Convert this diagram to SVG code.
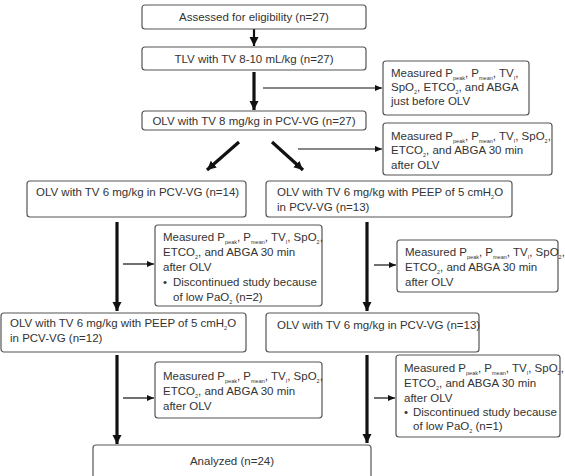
<svg xmlns="http://www.w3.org/2000/svg" width="565" height="476" viewBox="0 0 565 476">
<style>
.box{fill:#fff;stroke:#555;stroke-width:1.2}
text{font-family:"Liberation Sans",Arial,sans-serif;font-size:11.5px;fill:#333}
.s{font-size:5.5px}
.c{text-anchor:middle}
.thick{stroke:#111;stroke-width:3.2;fill:none}
.thin{stroke:#111;stroke-width:1.2;fill:none}
</style>
<defs>
<marker id="ah" markerUnits="userSpaceOnUse" markerWidth="10" markerHeight="10" refX="9" refY="5" orient="auto">
<path d="M0,0.5 L9,5 L0,9.5 Z" fill="#111"/>
</marker>
<marker id="as" markerUnits="userSpaceOnUse" markerWidth="8" markerHeight="8" refX="7" refY="4" orient="auto">
<path d="M0,1 L7,4 L0,7 Z" fill="#111"/>
</marker>
</defs>
<g id="connectors">
<line class="thin" x1="254" y1="29" x2="254" y2="46" style="stroke-width:2.2" marker-end="url(#ah)"/>
<line class="thick" x1="254" y1="72" x2="254" y2="110" marker-end="url(#ah)"/>
<line class="thin" x1="263" y1="88" x2="382" y2="88" marker-end="url(#as)"/>
<line class="thick" x1="239" y1="142" x2="207" y2="170" marker-end="url(#ah)"/>
<line class="thick" x1="272" y1="142" x2="303" y2="170" marker-end="url(#ah)"/>
<line class="thin" x1="298" y1="149" x2="382" y2="149" marker-end="url(#as)"/>
<line class="thick" x1="117" y1="222" x2="117" y2="311" marker-end="url(#ah)"/>
<line class="thin" x1="123" y1="264" x2="154" y2="264" marker-end="url(#as)"/>
<line class="thick" x1="367" y1="222" x2="367" y2="311" marker-end="url(#ah)"/>
<line class="thin" x1="374" y1="265" x2="396" y2="265" marker-end="url(#as)"/>
<line class="thick" x1="117" y1="355" x2="117" y2="444" marker-end="url(#ah)"/>
<line class="thin" x1="123" y1="398" x2="154" y2="398" marker-end="url(#as)"/>
<line class="thick" x1="367" y1="355" x2="367" y2="443" marker-end="url(#ah)"/>
<line class="thin" x1="374" y1="398" x2="395" y2="398" marker-end="url(#as)"/>
</g>
<g id="n1"><rect class="box" x="142" y="5" width="224" height="24" rx="3"/><text class="c" x="254" y="21">Assessed for eligibility (n=27)</text></g>
<g id="n2"><rect class="box" x="142" y="47" width="224" height="23" rx="3"/><text class="c" x="254" y="63">TLV with TV 8-10 mL/kg (n=27)</text></g>
<g id="m1"><rect class="box" x="383" y="61" width="146" height="54" rx="3"/>
<text x="391" y="77">Measured P<tspan class="s" dy="3">peak</tspan><tspan dy="-3">, P</tspan><tspan class="s" dy="3">mean</tspan><tspan dy="-3">, TV</tspan><tspan class="s" dy="3">I</tspan><tspan dy="-3">,</tspan></text>
<text x="391" y="91">SpO<tspan class="s" dy="3">2</tspan><tspan dy="-3">, ETCO</tspan><tspan class="s" dy="3">2</tspan><tspan dy="-3">, and ABGA</tspan></text>
<text x="391" y="105">just before OLV</text></g>
<g id="n3"><rect class="box" x="142" y="111" width="224" height="19" rx="3"/><text class="c" x="254" y="125">OLV with TV 8 mg/kg in PCV-VG (n=27)</text></g>
<g id="m2"><rect class="box" x="383" y="123" width="169" height="52" rx="3"/>
<text x="391" y="140">Measured P<tspan class="s" dy="3">peak</tspan><tspan dy="-3">, P</tspan><tspan class="s" dy="3">mean</tspan><tspan dy="-3">, TV</tspan><tspan class="s" dy="3">I</tspan><tspan dy="-3">, SpO</tspan><tspan class="s" dy="3">2</tspan><tspan dy="-3">,</tspan></text>
<text x="391" y="154">ETCO<tspan class="s" dy="3">2</tspan><tspan dy="-3">, and ABGA 30 min</tspan></text>
<text x="391" y="169">after OLV</text></g>
<g id="n4"><rect class="box" x="27" y="181" width="219" height="36" rx="3"/><text x="36" y="196">OLV with TV 6 mg/kg in PCV-VG (n=14)</text></g>
<g id="n5"><rect class="box" x="266" y="181" width="246" height="36" rx="3"/>
<text x="277" y="196">OLV with TV 6 mg/kg with PEEP of 5 cmH<tspan class="s" dy="3">2</tspan><tspan dy="-3">O</tspan></text>
<text x="277" y="211">in PCV-VG (n=13)</text></g>
<g id="m3"><rect class="box" x="155" y="225" width="167" height="81" rx="3"/>
<text x="163" y="241">Measured P<tspan class="s" dy="3">peak</tspan><tspan dy="-3">, P</tspan><tspan class="s" dy="3">mean</tspan><tspan dy="-3">, TV</tspan><tspan class="s" dy="3">I</tspan><tspan dy="-3">, SpO</tspan><tspan class="s" dy="3">2</tspan><tspan dy="-3">,</tspan></text>
<text x="163" y="256">ETCO<tspan class="s" dy="3">2</tspan><tspan dy="-3">, and ABGA 30 min</tspan></text>
<text x="163" y="271">after OLV</text>
<text x="163" y="286">•</text><text x="173" y="286">Discontinued study because</text>
<text x="173" y="301">of low PaO<tspan class="s" dy="3">2</tspan><tspan dy="-3"> (n=2)</tspan></text></g>
<g id="m4"><rect class="box" x="397" y="240" width="161" height="52" rx="3"/>
<text x="405" y="256">Measured P<tspan class="s" dy="3">peak</tspan><tspan dy="-3">, P</tspan><tspan class="s" dy="3">mean</tspan><tspan dy="-3">, TV</tspan><tspan class="s" dy="3">I</tspan><tspan dy="-3">, SpO</tspan><tspan class="s" dy="3">2</tspan><tspan dy="-3">,</tspan></text>
<text x="405" y="271">ETCO<tspan class="s" dy="3">2</tspan><tspan dy="-3">, and ABGA 30 min</tspan></text>
<text x="405" y="286">after OLV</text></g>
<g id="n6"><rect class="box" x="1" y="313" width="245" height="39" rx="3"/>
<text x="10" y="327">OLV with TV 6 mg/kg with PEEP of 5 cmH<tspan class="s" dy="3">2</tspan><tspan dy="-3">O</tspan></text>
<text x="10" y="342">in PCV-VG (n=12)</text></g>
<g id="n7"><rect class="box" x="266" y="313" width="213" height="39" rx="3"/><text x="277" y="329">OLV with TV 6 mg/kg in PCV-VG (n=13)</text></g>
<g id="m5"><rect class="box" x="155" y="362" width="167" height="56" rx="3"/>
<text x="163" y="380">Measured P<tspan class="s" dy="3">peak</tspan><tspan dy="-3">, P</tspan><tspan class="s" dy="3">mean</tspan><tspan dy="-3">, TV</tspan><tspan class="s" dy="3">I</tspan><tspan dy="-3">, SpO</tspan><tspan class="s" dy="3">2</tspan><tspan dy="-3">,</tspan></text>
<text x="163" y="395">ETCO<tspan class="s" dy="3">2</tspan><tspan dy="-3">, and ABGA 30 min</tspan></text>
<text x="163" y="410">after OLV</text></g>
<g id="m6"><rect class="box" x="396" y="355" width="164" height="82" rx="3"/>
<text x="404" y="372">Measured P<tspan class="s" dy="3">peak</tspan><tspan dy="-3">, P</tspan><tspan class="s" dy="3">mean</tspan><tspan dy="-3">, TV</tspan><tspan class="s" dy="3">I</tspan><tspan dy="-3">, SpO</tspan><tspan class="s" dy="3">2</tspan><tspan dy="-3">,</tspan></text>
<text x="404" y="387">ETCO<tspan class="s" dy="3">2</tspan><tspan dy="-3">, and ABGA 30 min</tspan></text>
<text x="404" y="402">after OLV</text>
<text x="404" y="416">•</text><text x="413" y="416">Discontinued study because</text>
<text x="413" y="430">of low PaO<tspan class="s" dy="3">2</tspan><tspan dy="-3"> (n=1)</tspan></text></g>
<g id="n8"><rect class="box" x="93" y="445" width="278" height="40" rx="3"/><text class="c" x="232" y="465">Analyzed (n=24)</text></g>
</svg>
